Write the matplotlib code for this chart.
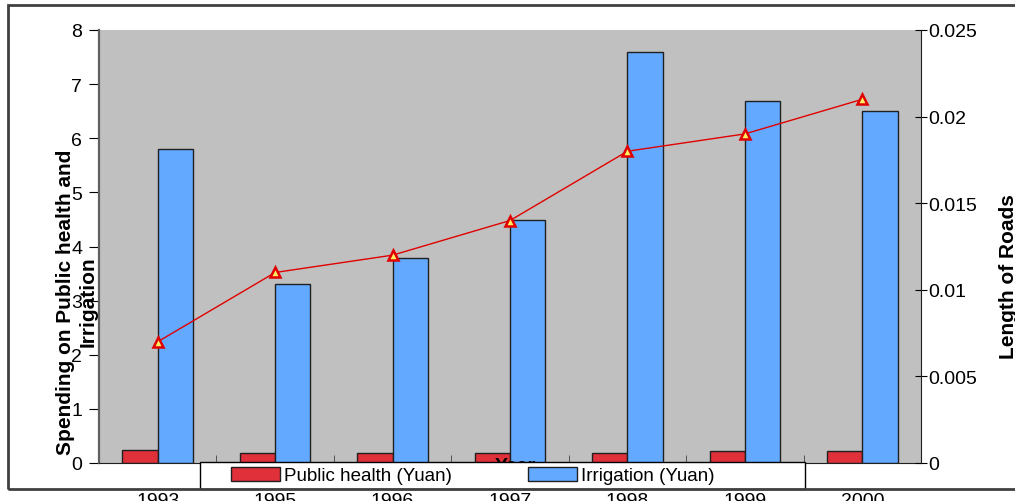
import numpy as np
import matplotlib.pyplot as plt
from matplotlib.patches import Rectangle

plt.rcParams['font.family'] = ['Liberation Sans', 'DejaVu Sans']

years = ['1993', '1995', '1996', '1997', '1998', '1999', '2000']
public_health = [0.24, 0.18, 0.18, 0.18, 0.18, 0.23, 0.23]
irrigation = [5.8, 3.31, 3.79, 4.49, 7.6, 6.69, 6.5]
roads = [0.007, 0.011, 0.012, 0.014, 0.018, 0.019, 0.021]

x = np.arange(len(years))
w = 0.3

fig = plt.figure(figsize=(10.15, 5.02), dpi=100)
ax = fig.add_axes([99/1015, 38/502, 822/1015, 433/502])
ax.set_facecolor('#C0C0C0')

b1 = ax.bar(x - w/2, public_health, w, color='#E0303A', edgecolor='#202020', linewidth=1, label='Public health (Yuan)', zorder=2)
b2 = ax.bar(x + w/2, irrigation, w, color='#62A9FF', edgecolor='#202020', linewidth=1, label='Irrigation (Yuan)', zorder=2)

ax.set_xlim(-0.5, 6.5)
ax.set_ylim(0, 8)
ax.set_yticks(range(0, 9))
ax.set_xticks(x)
ax.set_xticklabels(years)
ax.set_xticks(np.arange(0.5, 6.5, 1), minor=True)
ax.tick_params(axis='x', which='major', length=0, pad=21, labelsize=14)
ax.tick_params(axis='x', which='minor', direction='in', length=6, color='#404040')
ax.tick_params(axis='y', direction='out', length=7, labelsize=14, pad=5)

ax.spines['top'].set_visible(False)
ax.spines['right'].set_visible(False)
ax.spines['left'].set_color('#606060')
ax.spines['left'].set_linewidth(1.6)
ax.spines['bottom'].set_color('#202020')

ax2 = ax.twinx()
ax2.plot(x, roads, color='#E00000', lw=1, marker='^', markersize=7,
         markerfacecolor='#FFF060', markeredgecolor='#E00000', markeredgewidth=1.8, zorder=3)
ax2.set_ylim(0, 0.025)
ax2.set_yticks([0, 0.005, 0.01, 0.015, 0.02, 0.025])
ax2.set_yticklabels(['0', '0.005', '0.01', '0.015', '0.02', '0.025'])
ax2.tick_params(axis='y', direction='inout', length=9, labelsize=14, pad=1)
for s in ['top', 'left', 'bottom']:
    ax2.spines[s].set_visible(False)
ax2.spines['right'].set_color('#202020')

ax.text(-0.027, 0.374, 'Spending on Public health and\nIrrigation', transform=ax.transAxes,
        rotation=90, ha='center', va='center', multialignment='center',
        fontsize=15, fontweight='bold', linespacing=1.3)
ax2.text(1.106, 0.432, 'Length of Roads', transform=ax.transAxes, rotation=90,
         ha='center', va='center', fontsize=15, fontweight='bold')
# x label sits mostly behind the legend box, as in the original
fig.text(515/1015, 1 - 458/502, 'Year', ha='center', va='top', fontsize=14, fontweight='bold', zorder=5)

# legend box drawn separately so the entries can sit where they do in the original
fig.patches.append(Rectangle((200/1015, 12/502), 605/1015, 27/502, transform=fig.transFigure,
                             facecolor='white', edgecolor='black', linewidth=1, zorder=9))
leg = fig.legend(handles=[b1, b2], loc='center left', ncol=2,
                 bbox_to_anchor=(231/1015, 25.5/502), bbox_transform=fig.transFigure,
                 frameon=False, fontsize=13.5, columnspacing=4.1,
                 handlelength=2.6, handleheight=0.85, handletextpad=0.2, borderpad=0,
                 borderaxespad=0)
leg.set_zorder(10)

fig.patches.append(Rectangle((8/1015, 12/502), 1.2, 1 - 18/502, transform=fig.transFigure,
                             fill=False, edgecolor='#404040', linewidth=2, zorder=20))

fig.savefig('out.png', dpi=100)
